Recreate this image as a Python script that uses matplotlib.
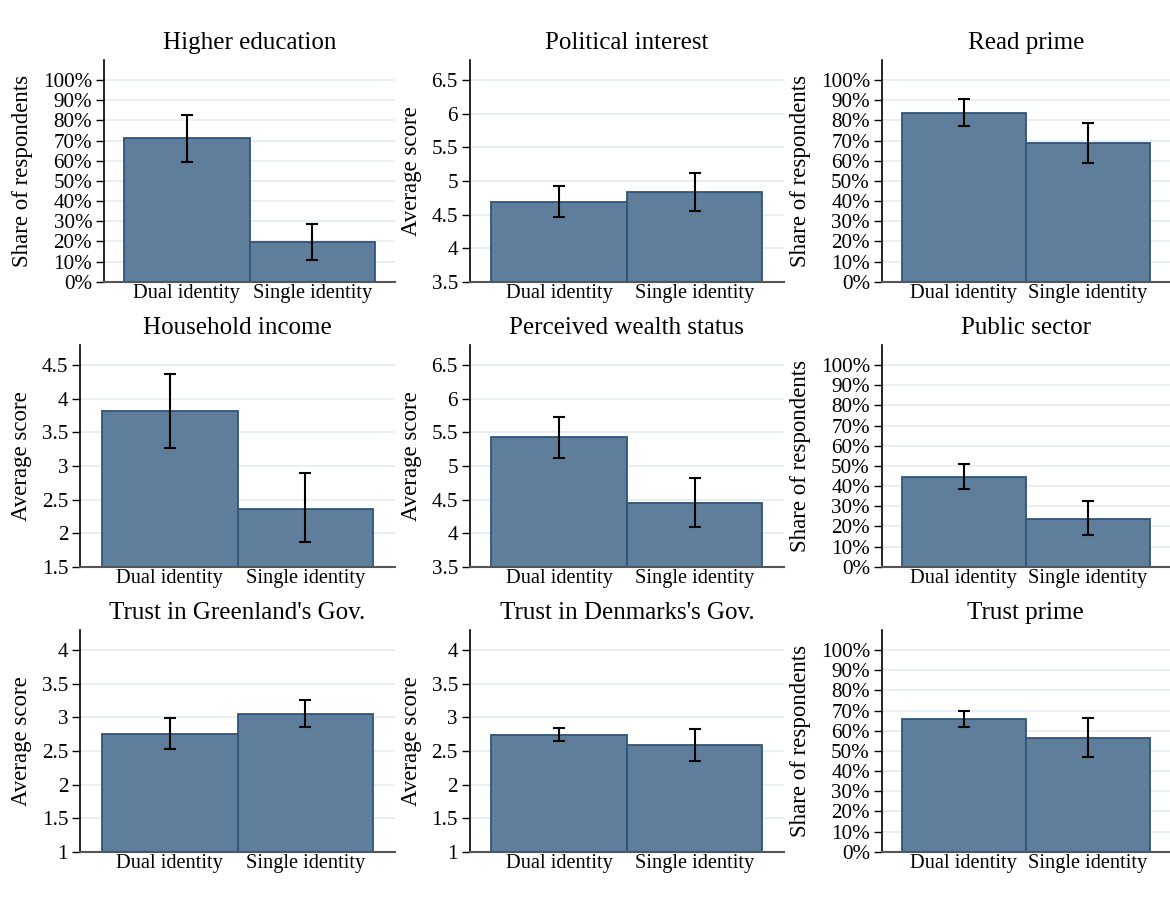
import matplotlib
matplotlib.use("Agg")
import matplotlib.pyplot as plt
import numpy as np
from matplotlib.ticker import FuncFormatter

plt.rcParams['font.family'] = ['Liberation Serif', 'DejaVu Serif']

groups = ["Dual identity", "Single identity"]
titles = ["Higher education", "Political interest", "Read prime",
          "Household income", "Perceived wealth status", "Public sector",
          "Trust in Greenland's Gov.", "Trust in Denmarks's Gov.", "Trust prime"]
is_share = [True, False, True, False, False, True, False, False, True]
y_min = [0.0, 3.5, 0.0, 1.5, 3.5, 0.0, 1.0, 1.0, 0.0]
y_max = [1.0, 6.5, 1.0, 4.5, 6.5, 1.0, 4.0, 4.0, 1.0]

dual_mean = [0.713, 4.687, 0.837, 3.813, 5.425, 0.447, 2.749, 2.740, 0.658]
dual_lo = [0.595, 4.457, 0.772, 3.272, 5.122, 0.387, 2.530, 2.650, 0.621]
dual_hi = [0.827, 4.926, 0.907, 4.372, 5.730, 0.508, 2.988, 2.845, 0.698]
single_mean = [0.197, 4.836, 0.686, 2.366, 4.455, 0.239, 3.048, 2.585, 0.563]
single_lo = [0.110, 4.557, 0.588, 1.864, 4.093, 0.156, 2.860, 2.351, 0.470]
single_hi = [0.284, 5.125, 0.786, 2.894, 4.813, 0.326, 3.263, 2.824, 0.661]

W, H = 1170, 900
fig = plt.figure(figsize=(W / 100, H / 100), dpi=100)

row_px = [(60, 281.7), (345, 566.7), (630, 851.7)]
col_right = [395, 784, 1170]
left_share = [104, 469.7, 881.7]
left_score = [80, 469.7, 881.7]

bar_face = '#5e7e9b'
bar_edge = '#2f557a'
grid_col = '#e9eff2'

for i in range(9):
    r, c = divmod(i, 3)
    top, bot = row_px[r]
    left = left_share[c] if is_share[i] else left_score[c]
    right = col_right[c]
    ax = fig.add_axes([left / W, 1 - bot / H, (right - left) / W, (bot - top) / H])

    x = np.arange(len(groups))
    means = [dual_mean[i], single_mean[i]]
    lo = [dual_lo[i], single_lo[i]]
    hi = [dual_hi[i], single_hi[i]]
    base = y_min[i]
    ax.bar(x, np.array(means) - base, bottom=base, width=1.0, color=bar_face,
           edgecolor=bar_edge, linewidth=1.3, zorder=2)
    yerr = [np.array(means) - np.array(lo), np.array(hi) - np.array(means)]
    ax.errorbar(x, means, yerr=yerr, fmt='none', ecolor='black', elinewidth=1.5,
                capsize=4, capthick=1.5, zorder=3)

    rng = y_max[i] - y_min[i]
    if is_share[i]:
        ticks = np.arange(0, 1.0001, 0.1)
        ax.yaxis.set_major_formatter(FuncFormatter(lambda v, p: f"{v*100:.0f}%"))
        ylabel = "Share of respondents"
    else:
        ticks = np.arange(y_min[i], y_max[i] + 0.001, 0.5)
        ax.yaxis.set_major_formatter(FuncFormatter(lambda v, p: f"{v:g}"))
        ylabel = "Average score"
    ax.set_yticks(ticks)
    ax.set_ylim(y_min[i], y_max[i] + 0.1 * rng)
    ax.set_xlim(-0.66, 1.66)
    ax.set_xticks(x)
    ax.set_xticklabels(groups)

    ax.grid(axis='y', color=grid_col, linewidth=1.5, zorder=0)
    ax.set_axisbelow(True)
    for s in ['top', 'right']:
        ax.spines[s].set_visible(False)
    ax.spines['left'].set_color('black')
    ax.spines['left'].set_linewidth(1.2)
    ax.spines['bottom'].set_color('#555555')
    ax.spines['bottom'].set_linewidth(1.5)
    ax.tick_params(axis='x', length=0, pad=2, labelsize=14.7)
    ax.tick_params(axis='y', length=5.5, width=1, pad=3, labelsize=15.2)
    ax.set_ylabel(ylabel, fontsize=16.5, labelpad=7)
    ax.set_title(titles[i], fontsize=18, pad=8)

fig.savefig("out.png", dpi=100, facecolor='white')
